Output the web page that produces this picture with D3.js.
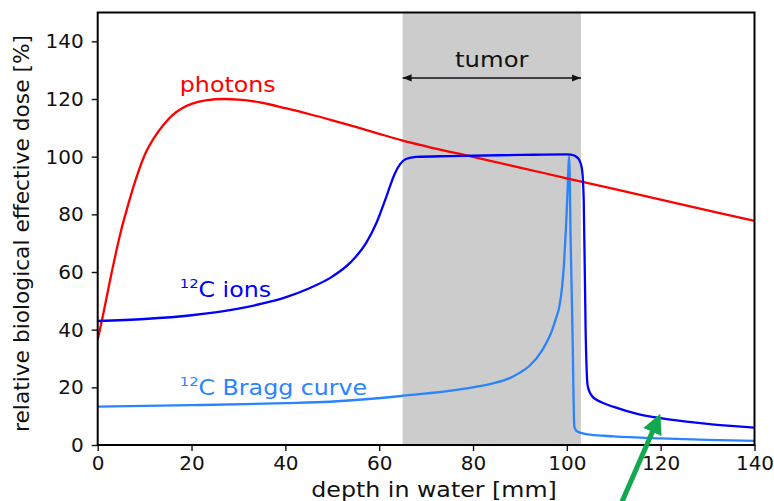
<!DOCTYPE html>
<html>
<head>
<meta charset="utf-8">
<script src="https://cdn.jsdelivr.net/npm/d3@7"></script>
<style>
  body { margin: 0; background: #fff; }
  svg { display: block; font-family: "DejaVu Sans", sans-serif; }
</style>
</head>
<body>
<svg id="chart" width="774" height="501"></svg>
<script>
// depth in water [mm] / relative dose [%]
const photonDepth = [0, 1, 2, 3, 4, 5, 6, 8, 10, 12, 14, 16, 18, 20, 23, 27, 30, 35, 40, 45, 50, 55, 60, 65, 70, 80, 90, 100, 110, 120, 130, 140];
const photonDose  = [36.5, 44, 52, 60, 67.5, 74.5, 80.5, 91.5, 100.5, 106.5, 111, 114.5, 116.8, 118.3, 119.5, 120, 119.8, 118.7, 116.8, 114.8, 112.6, 110.3, 107.9, 105.6, 103.6, 99.9, 96.2, 92.5, 88.8, 85.1, 81.4, 77.7];

const ionDepth = [0, 10, 20, 30, 35, 40, 45, 50, 54, 57.2, 59.4, 61.5, 63.3, 64.5, 65.7, 67.9, 75, 90, 100, 100.8, 101.8, 102.6, 103.2, 103.6, 104, 104.4, 104.8, 105.4, 106.5, 108, 110, 115, 120, 125, 130, 135, 140];
const ionDose  = [43, 43.7, 45, 47.3, 49, 51.2, 54.3, 58.4, 63.5, 70, 77, 86, 94, 97.5, 99.2, 99.9, 100.2, 100.6, 100.8, 100.7, 100.2, 99, 96, 85, 40, 21, 18.6, 16.9, 15.5, 14.4, 13.2, 10.8, 9.3, 8.2, 7.3, 6.6, 6];

const braggDepth = [0, 20, 40, 49.4, 64.7, 79.9, 84, 87.7, 90, 92, 94.8, 96.9, 97.7, 98.4, 99, 99.4, 99.8, 100.1, 100.5, 100.8, 101.2, 101.6, 102, 103, 105, 110, 120, 130, 140];
const braggDose  = [13.3, 13.8, 14.5, 15, 17, 20, 21.3, 23.1, 25.1, 27.4, 33, 40, 44, 48, 55, 63, 75, 86, 100, 72, 40, 6.3, 5, 4.2, 3.6, 3, 2.3, 1.8, 1.4];

const xTicks = [0, 20, 40, 60, 80, 100, 120, 140];
const yTicks = [0, 20, 40, 60, 80, 100, 120, 140];

const tumorRange = [65, 103];
const arrowTail = [111.4, -21];
const arrowTip = [119.6, 9.6];

const svg = d3.select('#chart');
const margin = { top: 12.5, right: 19.5, bottom: 56, left: 97.7 };
const width = 774 - margin.left - margin.right;
const height = 501 - margin.top - margin.bottom;

const x = d3.scaleLinear().domain([0, 140]).range([0, width]);
const y = d3.scaleLinear().domain([0, 150]).range([height, 0]);

// the annotation text in the original is drawn a little wide
const stretch = 1.13;

const defs = svg.append('defs');
defs.append('clipPath').attr('id', 'plotClip')
    .append('rect').attr('width', width).attr('height', height);

defs.append('marker')
    .attr('id', 'head')
    .attr('viewBox', '0 0 10 10')
    .attr('refX', 10).attr('refY', 5)
    .attr('markerWidth', 9).attr('markerHeight', 9)
    .attr('markerUnits', 'userSpaceOnUse')
    .attr('orient', 'auto-start-reverse')
    .append('path').attr('d', 'M0,1 L10,5 L0,9 Z').attr('fill', '#111');

defs.append('marker')
    .attr('id', 'greenHead')
    .attr('viewBox', '0 0 10 10')
    .attr('refX', 8).attr('refY', 5)
    .attr('markerWidth', 20).attr('markerHeight', 20)
    .attr('markerUnits', 'userSpaceOnUse')
    .attr('orient', 'auto')
    .append('path').attr('d', 'M0,0 L10,5 L0,10 Z').attr('fill', '#12a84f');

const g = svg.append('g').attr('transform', `translate(${margin.left},${margin.top})`);

function wideText(px, py, size, colour) {
    return g.append('text')
        .attr('transform', `translate(${px},${py}) scale(${stretch},1)`)
        .attr('font-size', size)
        .attr('fill', colour);
}

// tumour band
g.append('rect')
    .attr('x', x(tumorRange[0]))
    .attr('y', 0)
    .attr('width', x(tumorRange[1]) - x(tumorRange[0]))
    .attr('height', height)
    .attr('fill', '#cccccc');

g.append('line')
    .attr('x1', x(tumorRange[0])).attr('x2', x(tumorRange[1]))
    .attr('y1', y(127.3)).attr('y2', y(127.3))
    .attr('stroke', '#111').attr('stroke-width', 1.5)
    .attr('marker-start', 'url(#head)').attr('marker-end', 'url(#head)');

wideText(x((tumorRange[0] + tumorRange[1]) / 2), y(131.2), 21.5, '#111')
    .attr('text-anchor', 'middle')
    .text('tumor');

const curves = g.append('g').attr('clip-path', 'url(#plotClip)');

function drawCurve(xs, ys, colour) {
    const line = d3.line()
        .x((d, i) => x(xs[i]))
        .y((d) => y(d))
        .curve(d3.curveMonotoneX);
    curves.append('path')
        .attr('d', line(ys))
        .attr('fill', 'none')
        .attr('stroke', colour)
        .attr('stroke-width', 2.3)
        .attr('stroke-linejoin', 'round');
}

drawCurve(braggDepth, braggDose, '#2b84ff');
drawCurve(photonDepth, photonDose, '#ff0000');
drawCurve(ionDepth, ionDose, '#0000ff');

// curve labels
wideText(x(17.5), y(122.4), 21, '#ff0000').text('photons');

function isotopeLabel(px, py, rest, colour) {
    const t = wideText(x(px), y(py), 21, colour);
    t.append('tspan').attr('font-size', 13).attr('dy', -9).text('12');
    t.append('tspan').attr('dy', 9).text('C ' + rest);
}
isotopeLabel(17.5, 51.3, 'ions', '#0000ff');
isotopeLabel(17.5, 17.3, 'Bragg curve', '#2b84ff');

// axes
const yAxis = g.append('g')
    .call(d3.axisLeft(y).tickValues(yTicks).tickSize(6).tickPadding(8));
const xAxis = g.append('g')
    .attr('transform', `translate(0,${height})`)
    .call(d3.axisBottom(x).tickValues(xTicks).tickSize(6).tickPadding(5));

[yAxis, xAxis].forEach((ax) => {
    ax.select('.domain').remove();
    ax.selectAll('.tick line').attr('stroke', '#111').attr('stroke-width', 1.4);
    ax.selectAll('.tick text').attr('font-size', 20).attr('fill', '#111')
        .attr('font-family', '"DejaVu Sans", sans-serif');
});

g.append('rect')
    .attr('width', width).attr('height', height)
    .attr('fill', 'none').attr('stroke', '#000').attr('stroke-width', 2);

wideText(434 - margin.left, 497 - margin.top, 21, '#111')
    .attr('text-anchor', 'middle')
    .text('depth in water [mm]');

g.append('text')
    .attr('transform', `translate(${28.5 - margin.left},${233.5 - margin.top}) rotate(-90)`)
    .attr('text-anchor', 'middle')
    .attr('font-size', 21)
    .attr('textLength', 397)
    .attr('lengthAdjust', 'spacingAndGlyphs')
    .attr('fill', '#111')
    .text('relative biological effective dose [%]');

// green pointer
g.append('line')
    .attr('x1', x(arrowTail[0])).attr('y1', y(arrowTail[1]))
    .attr('x2', x(arrowTip[0])).attr('y2', y(arrowTip[1]))
    .attr('stroke', '#12a84f').attr('stroke-width', 5)
    .attr('marker-end', 'url(#greenHead)');
</script>
</body>
</html>
